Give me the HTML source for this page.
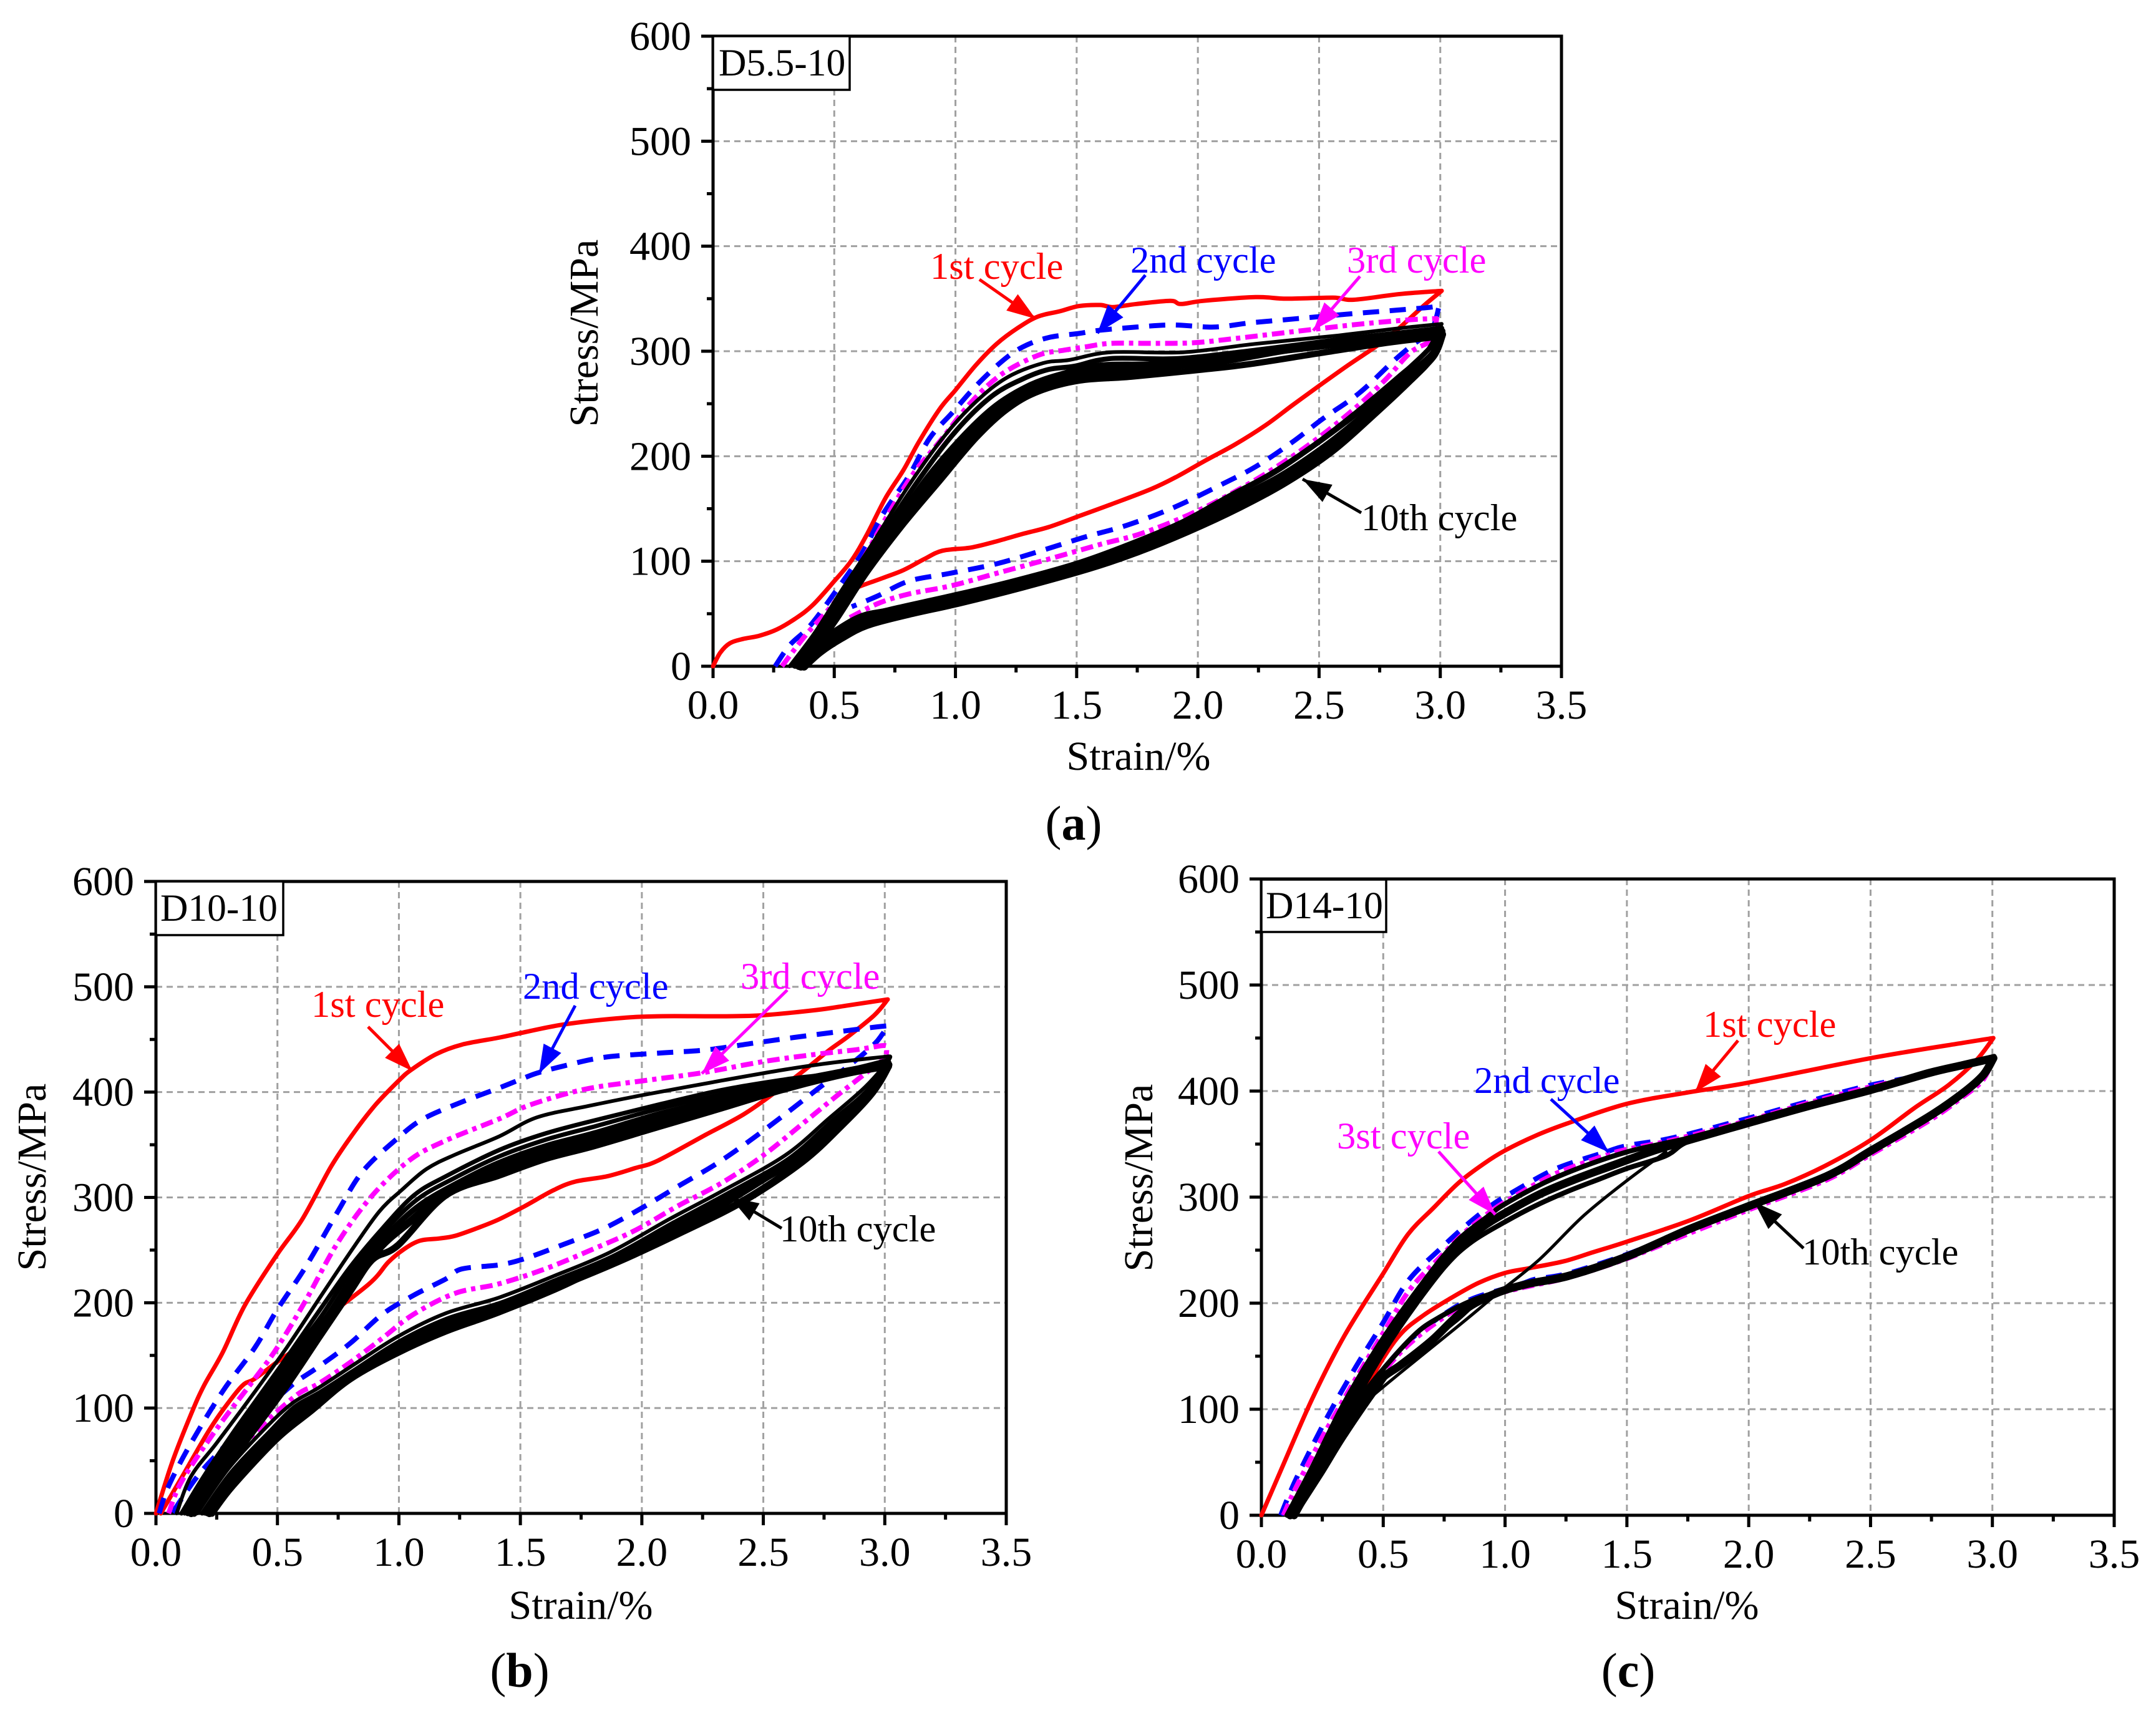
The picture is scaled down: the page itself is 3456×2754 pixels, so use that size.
<!DOCTYPE html>
<html>
<head>
<meta charset="utf-8">
<title>Stress-strain hysteresis loops</title>
<style>
html,body{margin:0;padding:0;background:#fff;}
svg{display:block;font-family:"Liberation Serif",serif;}
text{fill:#000;}
.tick{font-size:66px;}
.axis-title{font-size:66px;}
.note{font-size:60.5px;}
.tag{font-size:61.5px;}
.sub{font-size:78px;}
</style>
</head>
<body>
<svg id="chart" xmlns="http://www.w3.org/2000/svg" width="3456" height="2754" viewBox="0 0 3456 2754">
<defs>
<marker id="head-red" markerUnits="userSpaceOnUse" markerWidth="48" markerHeight="36" refX="46" refY="18" orient="auto"><path d="M0 2L46 18L0 34Z" fill="#ff0000"/></marker>
<marker id="head-blue" markerUnits="userSpaceOnUse" markerWidth="48" markerHeight="36" refX="46" refY="18" orient="auto"><path d="M0 2L46 18L0 34Z" fill="#0000ff"/></marker>
<marker id="head-magenta" markerUnits="userSpaceOnUse" markerWidth="48" markerHeight="36" refX="46" refY="18" orient="auto"><path d="M0 2L46 18L0 34Z" fill="#ff00ff"/></marker>
<marker id="head-black" markerUnits="userSpaceOnUse" markerWidth="48" markerHeight="36" refX="46" refY="18" orient="auto"><path d="M0 2L46 18L0 34Z" fill="#000000"/></marker>
</defs>

<g id="panel-a">
<g id="base-a"></g>
<g id="marks-a"></g>
<rect x="1143" y="58" width="219" height="86" fill="#fff" stroke="#000" stroke-width="3.5"/>
<text class="tag" x="1152" y="121">D5.5-10</text>
<text class="axis-title" transform="rotate(-90 958 534)" x="958" y="534" text-anchor="middle">Stress/MPa</text>
<text class="axis-title" x="1825" y="1234" text-anchor="middle">Strain/%</text>
<text class="sub" x="1721" y="1346" text-anchor="middle">(<tspan font-weight="bold">a</tspan>)</text>
<text class="note" x="1491" y="447" style="fill:#ff0000">1st cycle</text>
<text class="note" x="1812" y="437" style="fill:#0000ff">2nd cycle</text>
<text class="note" x="2159" y="437" style="fill:#ff00ff">3rd cycle</text>
<text class="note" x="2182" y="850">10th cycle</text>
<line x1="1570" y1="448" x2="1660" y2="511" stroke="#ff0000" stroke-width="5" marker-end="url(#head-red)"/>
<line x1="1836" y1="441" x2="1759" y2="534" stroke="#0000ff" stroke-width="5" marker-end="url(#head-blue)"/>
<line x1="2180" y1="443" x2="2105" y2="530" stroke="#ff00ff" stroke-width="5" marker-end="url(#head-magenta)"/>
<line x1="2182" y1="822" x2="2088" y2="768" stroke="#000" stroke-width="5" marker-end="url(#head-black)"/>
</g>

<g id="panel-b">
<g id="base-b"></g>
<g id="marks-b"></g>
<rect x="250" y="1413" width="204" height="86" fill="#fff" stroke="#000" stroke-width="3.5"/>
<text class="tag" x="257" y="1476">D10-10</text>
<text class="axis-title" transform="rotate(-90 73 1887)" x="73" y="1887" text-anchor="middle">Stress/MPa</text>
<text class="axis-title" x="931" y="2595" text-anchor="middle">Strain/%</text>
<text class="sub" x="833" y="2704" text-anchor="middle">(<tspan font-weight="bold">b</tspan>)</text>
<text class="note" x="499" y="1630" style="fill:#ff0000">1st cycle</text>
<text class="note" x="838" y="1601" style="fill:#0000ff">2nd cycle</text>
<text class="note" x="1187" y="1585" style="fill:#ff00ff">3rd cycle</text>
<text class="note" x="1250" y="1990">10th cycle</text>
<line x1="590" y1="1646" x2="661" y2="1717" stroke="#ff0000" stroke-width="5" marker-end="url(#head-red)"/>
<line x1="922" y1="1612" x2="864" y2="1721" stroke="#0000ff" stroke-width="5" marker-end="url(#head-blue)"/>
<line x1="1262" y1="1587" x2="1125" y2="1721" stroke="#ff00ff" stroke-width="5" marker-end="url(#head-magenta)"/>
<line x1="1253" y1="1969" x2="1170" y2="1919" stroke="#000" stroke-width="5" marker-end="url(#head-black)"/>
</g>

<g id="panel-c">
<g id="base-c"></g>
<g id="marks-c"></g>
<rect x="2022" y="1410" width="200" height="84" fill="#fff" stroke="#000" stroke-width="3.5"/>
<text class="tag" x="2029" y="1472">D14-10</text>
<text class="axis-title" transform="rotate(-90 1847 1888)" x="1847" y="1888" text-anchor="middle">Stress/MPa</text>
<text class="axis-title" x="2704" y="2595" text-anchor="middle">Strain/%</text>
<text class="sub" x="2610" y="2704" text-anchor="middle">(<tspan font-weight="bold">c</tspan>)</text>
<text class="note" x="2730" y="1662" style="fill:#ff0000">1st cycle</text>
<text class="note" x="2363" y="1752" style="fill:#0000ff">2nd cycle</text>
<text class="note" x="2143" y="1841" style="fill:#ff00ff">3st cycle</text>
<text class="note" x="2889" y="2027">10th cycle</text>
<line x1="2786" y1="1668" x2="2717" y2="1751" stroke="#ff0000" stroke-width="5" marker-end="url(#head-red)"/>
<line x1="2486" y1="1762" x2="2579" y2="1847" stroke="#0000ff" stroke-width="5" marker-end="url(#head-blue)"/>
<line x1="2306" y1="1846" x2="2397" y2="1947" stroke="#ff00ff" stroke-width="5" marker-end="url(#head-magenta)"/>
<line x1="2891" y1="2001" x2="2812" y2="1927" stroke="#000" stroke-width="5" marker-end="url(#head-black)"/>
</g>
</svg>

<script>
const xTickLabels = ['0.0','0.5','1.0','1.5','2.0','2.5','3.0','3.5'];
const yTickLabels = ['0','100','200','300','400','500','600'];
const xMinorValues = [0.25,0.75,1.25,1.75,2.25,2.75,3.25];
const yMinorValues = [50,150,250,350,450,550];

/* Panel (a) D5.5-10 */
const aCycle1Strain = [0,.03,.07,.124,.19,.263,.337,.41,.5,.572,.636,.711,.786,.85,.935,1,1.085,1.17,1.256,1.34,1.43,1.51,1.597,1.65,1.747,1.886,1.93,2.024,2.238,2.366,2.558,2.643,2.835,3.006,
  2.94,2.835,2.75,2.622,2.494,2.387,2.28,2.152,2.024,1.917,1.81,1.64,1.51,1.384,1.277,1.17,1.063,.946,.871,.786,.70,.594,.55];
const aCycle1Stress = [0,13,22,26,29,35,45,58,81,101,126,160,187,214,245,263,287,307,322,333,338,343,344,342,345,348,345,348,351.5,350,351,349,354.5,357.5,
  345,323,307,287,266,248,229.6,211,195,181,169,154,143,132.5,126,119,113,110,102,91.6,84,75,69];
const aCycle2Strain = [.256,.316,.40,.508,.615,.70,.807,.893,.989,1.085,1.19,1.277,1.384,1.512,1.597,1.747,1.896,2.067,2.217,2.409,2.6,2.814,2.964,2.996,
  2.964,2.88,2.804,2.665,2.515,2.387,2.238,2.088,1.896,1.704,1.533,1.34,1.17,.978,.807,.68,.572];
const aCycle2Stress = [0,20,38.5,72,108,144.6,181,217,242,267,290,304,313,317,320,323,325,323,327,331,335,339,342,344,
  320.5,305,290,260,235.6,213,190,172,150.7,134,123,109,97.6,88.5,81,67,56.7];
const aCycle3Strain = [.284,.38,.508,.615,.722,.828,.935,1.063,1.19,1.34,1.448,1.533,1.64,1.81,1.98,2.15,2.409,2.665,2.878,2.985,
  2.964,2.878,2.77,2.643,2.494,2.345,2.174,1.98,1.768,1.597,1.384,1.17,.978,.807,.68,.55];
const aCycle3Stress = [0,29,63,100.7,144.6,184,214,251,278,296,301,304,307.5,307.5,308,312,319,325.7,330,331,
  311,299,272,244.7,217,193,169,146,126.5,116,102,88.5,76.4,68.8,59.7,44.6];
const aCycle4Strain = [.316,.42,.53,.658,.807,.957,1.085,1.213,1.362,1.47,1.64,1.94,2.238,2.58,2.836,3.006,
  2.94,2.836,2.665,2.494,2.30,2.13,1.94,1.725,1.49,1.213,.957,.743,.615,.508,.40,.316];
const aCycle4Stress = [0,32,72,117,172,220,252,275,288.7,291.7,299,299,307,315,322,326,
  299,278,244.7,214,184,163,138.6,117,97.7,79.5,65.8,55,49,35.5,17,0];
const aCycle5Strain = [.337,.444,.572,.70,.85,1,1.149,1.277,1.384,1.49,1.64,1.92,2.238,2.58,2.836,3.006,
  2.964,2.857,2.686,2.515,2.323,2.152,1.96,1.747,1.512,1.234,.978,.764,.626,.519,.423,.342];
const aCycle5Stress = [0,35.5,84,126.5,178,223.5,257,273.5,282.6,285.7,293,293,301,311,317.5,322,
  305,281,246,216,185.6,164,140,119,99,81,67,56,47.6,34,17,0];
const aCycle7Strain = [.354,.466,.615,.743,.893,1.042,1.17,1.3,1.426,1.597,1.81,2.024,2.238,2.58,2.836,3.006,
  2.975,2.878,2.708,2.537,2.345,2.152,1.96,1.747,1.533,1.256,1,.786,.636,.53,.433,.37];
const aCycle7Stress = [0,35.5,93,132.5,181,220.5,247.8,266,276.6,285.7,287,293,298,307,314,319,
  299,278,243,211,181,158,135.6,114,96,78,64,52,44.6,31,14,0];
const aCycle8Strain = [.362,.487,.625,.765,.914,1.063,1.19,1.32,1.47,1.66,1.92,2.12,2.37,2.69,3.006,
  2.97,2.878,2.72,2.548,2.355,2.163,1.96,1.747,1.544,1.266,1.01,.796,.636,.53,.438,.375];
const aCycle8Stress = [0,40,91,134,179,219,246,264,274,280,287,292,302,311,316,
  296,275,241,208,178,155,132,111,94.5,76.5,62,50.5,41.5,28.5,13.5,0];
const aCycle10Strain = [.37,.508,.636,.786,.935,1.085,1.213,1.34,1.512,1.725,2.024,2.217,2.494,2.793,3.006,
  2.964,2.878,2.73,2.558,2.366,2.174,1.96,1.747,1.555,1.277,1.02,.807,.636,.53,.444,.38];
const aCycle10Stress = [0,44.6,90,135.6,176.5,217.4,244.7,261.4,272,275.7,282.6,287.8,297.8,308.4,314,
  293,272,240,205,175,151,128,108,93,75,60,49,38.5,26,13,0];

/* Panel (b) D10-10 */
const bCycle1Strain = [0,.066,.144,.197,.275,.367,.498,.603,.72,.813,.904,1,1.05,1.153,1.258,1.41,1.5,1.673,1.896,2.067,2.33,2.5,2.72,2.853,3.012,
  2.957,2.85,2.77,2.67,2.55,2.42,2.263,2.067,1.975,1.856,1.725,1.634,1.516,1.41,1.324,1.232,1.166,1.088,1.022,.957,.878,.668,.577,.498,.406,.354,.275,.21,.118,.02];
const bCycle1Stress = [0,48,94,121,153,198,245.5,279.5,329,361,388,411,421,436,445,451.6,456,464,470,472,472,473,478,482.5,488,
  473,453,439.6,421,400,379,359.5,335,328,320,315,306.6,291.5,279,271,263.6,261,259,251,238.7,218,180,157,143.6,127.7,121,98,75.6,39,0];
const bCycle2Strain = [.013,.052,.144,.275,.406,.498,.616,.747,.852,.996,1.1,1.258,1.413,1.5,1.568,1.673,1.843,2.067,2.263,2.46,2.63,2.853,2.97,3.016,
  2.99,2.957,2.866,2.735,2.59,2.433,2.3,2.145,2,1.843,1.673,1.516,1.413,1.258,1.193,1.06,.93,.8,.668,.577,.51,.406,.275,.17,.066];
const bCycle2Stress = [0,26,66.6,116,157,193,234,286,325,356.5,374.6,390.5,404,412,418,424.5,433,437,440,446.5,452,458.6,462,463,
  455,445.6,427.5,405,379,352,331,310,290,270.4,255,241.7,236,232,222.6,207,188.7,161.6,139,125,112,93.7,62,35,0];
const bCycle3Strain = [.052,.105,.249,.406,.498,.616,.747,.891,1.048,1.193,1.413,1.542,1.765,2.013,2.25,2.5,2.72,2.89,2.984,3.007,
  2.997,2.905,2.8,2.67,2.5,2.33,2.145,1.975,1.8,1.607,1.413,1.232,1.06,.93,.8,.668,.577,.4,.25,.1];
const bCycle3Stress = [0,30,80,127.7,157,202,256.6,302,336,354,374.6,388,402.7,411,418.4,429,436,440.5,444,444,
  432,415,396,371.6,340,314,291.5,269,251,232.6,218,209,189,166,143.4,123,112,75,35,0];
const bCycle4Strain = [.085,.144,.249,.38,.537,.668,.8,.917,1.01,1.114,1.232,1.413,1.568,1.778,2,2.33,2.59,2.787,3.016,
  3.016,2.92,2.77,2.59,2.33,2.118,1.87,1.634,1.413,1.193,.996,.8,.668,.564,.459,.3,.17];
const bCycle4Stress = [0,35,66.6,107,157,202.5,248,286,306.7,327,340.7,358,376,386.7,397,411,421.4,428,434,
  430.5,405,375,340,306,280,248,225,205,190,168,139,119,105,83,43,0];
const bCycle5Strain = [.105,.197,.328,.511,.668,.8,.93,1.062,1.193,1.413,1.607,1.83,2.067,2.33,2.59,2.787,3.016,
  2.93,2.78,2.6,2.34,2.13,1.88,1.64,1.42,1.2,1,.81,.675,.57,.47,.31,.19];
const bCycle5Stress = [0,35,80,139,191,234,270,302,320,345,361,374.6,388,402,412,418,430.5,
  402,372,336,302,276,244,221,200,185,163,135,115,101,78,39,0];
const bCycle6Strain = [.118,.22,.36,.54,.68,.81,.94,1.075,1.225,1.413,1.607,1.815,2.067,2.33,2.59,2.82,3.016,
  2.935,2.785,2.605,2.345,2.135,1.885,1.645,1.42,1.2,1,.81,.678,.575,.475,.32,.2];
const bCycle6Stress = [0,40,85,144,187,232,268,298,318,339,355,368,384,398,410,420,429,
  400,370,334,300,273,242,219,197,182,161,133,114,100,77,38,0];
const bCycle7Strain = [.131,.249,.393,.564,.695,.826,.957,1.088,1.258,1.413,1.607,1.804,2.067,2.33,2.59,2.853,3.016,
  2.94,2.79,2.61,2.35,2.14,1.89,1.65,1.42,1.2,1,.81,.68,.58,.48,.33,.21];
const bCycle7Stress = [0,44,89,148,184,229.6,265.7,293,315.7,333,349,361,379,394,409,421,428,
  399,368,332,298,271,240,217,196,180,158,131,112,97,74,35,0];
const bCycle8Strain = [.145,.262,.4,.55,.68,.813,.925,1.04,1.22,1.413,1.607,1.804,2.067,2.33,2.59,2.853,3.016,
  2.95,2.82,2.66,2.42,2.17,1.91,1.66,1.41,1.2,1,.81,.66,.52,.33,.22];
const bCycle8Stress = [0,41,84,134,175,220,253,276,309,327,343,355,373,390,406,420,426,
  400,368,334,297,268,240,216,193,177,156,130,106,80,32,0];
const bCycle10Strain = [.157,.275,.406,.537,.668,.8,.891,.996,1.193,1.413,1.607,1.804,2.067,2.33,2.59,2.853,3.016,
  2.96,2.853,2.72,2.5,2.197,1.935,1.673,1.41,1.193,.996,.8,.642,.498,.315,.23];
const bCycle10Stress = [0,39,80,121,166,211,241,254.6,302,321,337,349,367,385,403,418,424.5,
  403,379,350.5,317,275,246,216,191,173,152.7,127.7,98,71,26,0];

/* Panel (c) D14-10 */
const cCycle1Strain = [0,.079,.209,.34,.5,.602,.707,.812,.916,1,1.126,1.257,1.5,1.758,2,2.5,2.88,3.004,
  2.934,2.82,2.68,2.5,2.318,2.15,2,1.758,1.5,1.361,1.243,1.1,1,.89,.772,.668,.576,.497,.393,.236,.105];
const cCycle1Stress = [0,42,110,169,228,265,290,314,332,344,358,369.6,388,399,408,431,445.5,450,
  429,405.6,384,353.7,330,312.5,301,278,258,248,239.6,233,228.5,219,204,189,172,147,106,54,0];
const cCycle2Strain = [.079,.144,.262,.38,.497,.602,.733,.838,.942,1.034,1.165,1.257,1.414,1.5,1.69,2,2.248,2.5,2.74,2.88,3.004,
  2.962,2.878,2.74,2.5,2.318,2,1.758,1.5,1.257,1.126,1.06,.864,.733,.602,.497,.42,.275,.131];
const cCycle2Stress = [0,35,89,137,180.6,221,251,273,292,305,322,331,342.6,348.5,356,374.5,390.5,405.6,416,423.8,430.7,
  415,397,375,343,319,291,270,246,228,222.7,217.7,204,187,163.7,136.7,113,62.4,0];
const cCycle3Strain = [.09,.15,.27,.39,.5,.61,.74,.84,.95,1.04,1.17,1.26,1.42,1.5,1.69,2,2.248,2.5,2.74,2.88,3.004,
  2.96,2.87,2.74,2.5,2.318,2,1.758,1.5,1.257,1.06,.864,.72,.6,.497,.4,.27,.13];
const cCycle3Stress = [0,30,82,130,172,213,245,268,288,301,318,327,340,345,354,372.5,389,404,416,424,431,
  410,393,372,340,316,288,266,242,224,214,202,182,160,134,103,58,0];
const cCycle4Strain = [.105,.209,.34,.5,.668,.8,.93,1,1.165,1.322,1.5,1.66,1.758,2,2.248,2.5,2.74,2.88,3.004,
  3.004,2.962,2.878,2.74,2.5,2.318,2,1.758,1.5,1.257,1.126,1,.864,.733,.628,.471,.34,.236,.131];
const cCycle4Stress = [0,45.6,106,167,221,258,282,293.6,314,329,342.6,351,356,371,387.5,402,418.6,425,431.6,
  431.6,416,399,377.5,345,321,293,271.4,245,227,221,212.6,202.5,187,170,130,89,50,0];
const cCycle7Strain = [.118,.22,.352,.5,.648,.78,.897,1,1.145,1.29,1.443,1.6,1.758,2,2.248,2.5,2.74,2.88,3.004,
  2.962,2.878,2.74,2.5,2.318,2,1.758,1.5,1.257,1.09,.96,.83,.7,.58,.471,.34,.243,.134];
const cCycle7Stress = [0,44,103,160,209,247,270,285,303,317,330,343,354,370,386,401,417,424.5,431,
  415,398,376,343.5,319.5,291.5,270,244,225.5,218,209,193,165,143,124,82,45,0];
const cCycle10Strain = [.131,.236,.366,.5,.628,.759,.864,1,1.126,1.257,1.387,1.5,1.66,1.758,2,2.248,2.5,2.74,2.88,3.004,
  3.004,2.962,2.878,2.74,2.5,2.318,2,1.758,1.5,1.257,1.06,.916,.8,.668,.537,.471,.34,.249,.137];
const cCycle10Stress = [0,42,99.6,153.6,197,236,258,276.7,292,305.4,317,327,339,353,369,385,400,416,424,430.5,
  430.5,414,397,375,342,318,290,268.5,243,224,216,206,184,160,137,118,74,40,0];
const cStepStrain = [.458,.563,.8,.89,.968,1.14,1.32,1.5,1.66];
const cStepStress = [113,133,177,194,209,241,282,315.6,342.6];

const SVG_NS = 'http://www.w3.org/2000/svg';
const panels = {
  a:{left:1143,right:2503,top:58,bottom:1068,rightLabel:1108},
  b:{left:250,right:1613,top:1413,bottom:2426,rightLabel:215},
  c:{left:2022,right:3389,top:1409,bottom:2429,rightLabel:1987}
};
const xMax = 3.5, yMax = 600;
function xScale(p,v){return p.left+(p.right-p.left)*v/xMax;}
function yScale(p,v){return p.bottom-(p.bottom-p.top)*v/yMax;}
function make(tag,attrs,parent){
  const e=document.createElementNS(SVG_NS,tag);
  for(const k in attrs){e.setAttribute(k,attrs[k]);}
  parent.appendChild(e);
  return e;
}
function drawBase(key){
  const p=panels[key], g=document.getElementById('base-'+key);
  const grid={stroke:'#a0a0a0','stroke-width':3,'stroke-dasharray':'10 7',fill:'none'};
  yTickLabels.forEach(function(label){
    const y=yScale(p,parseFloat(label));
    if(y>p.top+1&&y<p.bottom-1){
      const gl=make('line',Object.assign({x1:p.left,x2:p.right,y1:y,y2:y},grid),g);
      
      
    }
    const t=make('line',{x1:p.left-19,x2:p.left,y1:y,y2:y,stroke:'#000','stroke-width':5},g);
    
    
    const tx=make('text',{x:p.rightLabel,y:y+22,'text-anchor':'end','class':'tick'},g);
    
    
    tx.textContent=label;
  });
  xTickLabels.forEach(function(label){
    const x=xScale(p,parseFloat(label));
    if(x>p.left+1&&x<p.right-1){
      const gl=make('line',Object.assign({x1:x,x2:x,y1:p.top,y2:p.bottom},grid),g);
      
      
    }
    const t=make('line',{x1:x,x2:x,y1:p.bottom,y2:p.bottom+19,stroke:'#000','stroke-width':5},g);
    
    
    const tx=make('text',{x:x,y:p.bottom+84,'text-anchor':'middle','class':'tick'},g);
    
    
    tx.textContent=label;
  });
  xMinorValues.forEach(function(v){
    const x=xScale(p,v);
    const t=make('line',{x1:x,x2:x,y1:p.bottom,y2:p.bottom+10,stroke:'#000','stroke-width':5},g);
    
    
  });
  yMinorValues.forEach(function(v){
    const y=yScale(p,v);
    const t=make('line',{x1:p.left-10,x2:p.left,y1:y,y2:y,stroke:'#000','stroke-width':5},g);
    
    
  });
  const frame=make('rect',{x:p.left,y:p.top,width:p.right-p.left,height:p.bottom-p.top,fill:'none',stroke:'#000','stroke-width':5},g);
  
  
}
function smoothPart(pts){
  let d='';
  for(let i=0;i<pts.length-1;i++){
    const p0=pts[Math.max(i-1,0)],p1=pts[i],p2=pts[i+1],p3=pts[Math.min(i+2,pts.length-1)];
    const c1x=p1[0]+(p2[0]-p0[0])/6,c1y=p1[1]+(p2[1]-p0[1])/6;
    const c2x=p2[0]-(p3[0]-p1[0])/6,c2y=p2[1]-(p3[1]-p1[1])/6;
    d+='C'+c1x.toFixed(1)+' '+c1y.toFixed(1)+' '+c2x.toFixed(1)+' '+c2y.toFixed(1)+' '+p2[0].toFixed(1)+' '+p2[1].toFixed(1);
  }
  return d;
}
function drawSeries(key,name,strain,stress,color,width,dash){
  const p=panels[key], g=document.getElementById('marks-'+key);
  const n=Math.min(strain.length,stress.length);
  const pts=[];
  let turn=0;
  for(let i=0;i<n;i++){
    pts.push([xScale(p,strain[i]),yScale(p,stress[i])]);
    if(strain[i]>strain[turn]){turn=i;}
  }
  const d='M'+pts[0][0].toFixed(1)+' '+pts[0][1].toFixed(1)+smoothPart(pts.slice(0,turn+1))+smoothPart(pts.slice(turn));
  const attrs={d:d,fill:'none',stroke:color,'stroke-width':width,'stroke-linejoin':'round','stroke-linecap':dash?'butt':'round'};
  if(dash){attrs['stroke-dasharray']=dash;}
  const path=make('path',attrs,g);
  
  
}
const RED='#ff0000',BLUE='#0000ff',MAGENTA='#ff00ff',BLACK='#000000';
const DASH='26 17',DASHDOT='20 8 7 8';
['a','b','c'].forEach(drawBase);

drawSeries('a','cycle-1-line',aCycle1Strain,aCycle1Stress,RED,7);
drawSeries('a','cycle-2-line',aCycle2Strain,aCycle2Stress,BLUE,8,DASH);
drawSeries('a','cycle-3-line',aCycle3Strain,aCycle3Stress,MAGENTA,8,DASHDOT);
drawSeries('a','cycle-4-line',aCycle4Strain,aCycle4Stress,BLACK,6);
drawSeries('a','cycle-5-line',aCycle5Strain,aCycle5Stress,BLACK,8);
drawSeries('a','cycle-7-line',aCycle7Strain,aCycle7Stress,BLACK,12);
drawSeries('a','cycle-8-line',aCycle8Strain,aCycle8Stress,BLACK,14);
drawSeries('a','cycle-10-line',aCycle10Strain,aCycle10Stress,BLACK,10);

drawSeries('b','cycle-1-line',bCycle1Strain,bCycle1Stress,RED,7);
drawSeries('b','cycle-2-line',bCycle2Strain,bCycle2Stress,BLUE,8,DASH);
drawSeries('b','cycle-3-line',bCycle3Strain,bCycle3Stress,MAGENTA,8,DASHDOT);
drawSeries('b','cycle-4-line',bCycle4Strain,bCycle4Stress,BLACK,6);
drawSeries('b','cycle-5-line',bCycle5Strain,bCycle5Stress,BLACK,7);
drawSeries('b','cycle-6-line',bCycle6Strain,bCycle6Stress,BLACK,7);
drawSeries('b','cycle-7-line',bCycle7Strain,bCycle7Stress,BLACK,9);
drawSeries('b','cycle-8-line',bCycle8Strain,bCycle8Stress,BLACK,12);
drawSeries('b','cycle-10-line',bCycle10Strain,bCycle10Stress,BLACK,11);

drawSeries('c','cycle-1-line',cCycle1Strain,cCycle1Stress,RED,7);
drawSeries('c','cycle-2-line',cCycle2Strain,cCycle2Stress,BLUE,8,DASH);
drawSeries('c','cycle-3-line',cCycle3Strain,cCycle3Stress,MAGENTA,8,DASHDOT);
drawSeries('c','cycle-4-line',cCycle4Strain,cCycle4Stress,BLACK,8);
drawSeries('c','cycle-7-line',cCycle7Strain,cCycle7Stress,BLACK,13);
drawSeries('c','cycle-10-line',cCycle10Strain,cCycle10Stress,BLACK,8);
drawSeries('c','reload-step-line',cStepStrain,cStepStress,BLACK,5);
</script>
</body>
</html>
